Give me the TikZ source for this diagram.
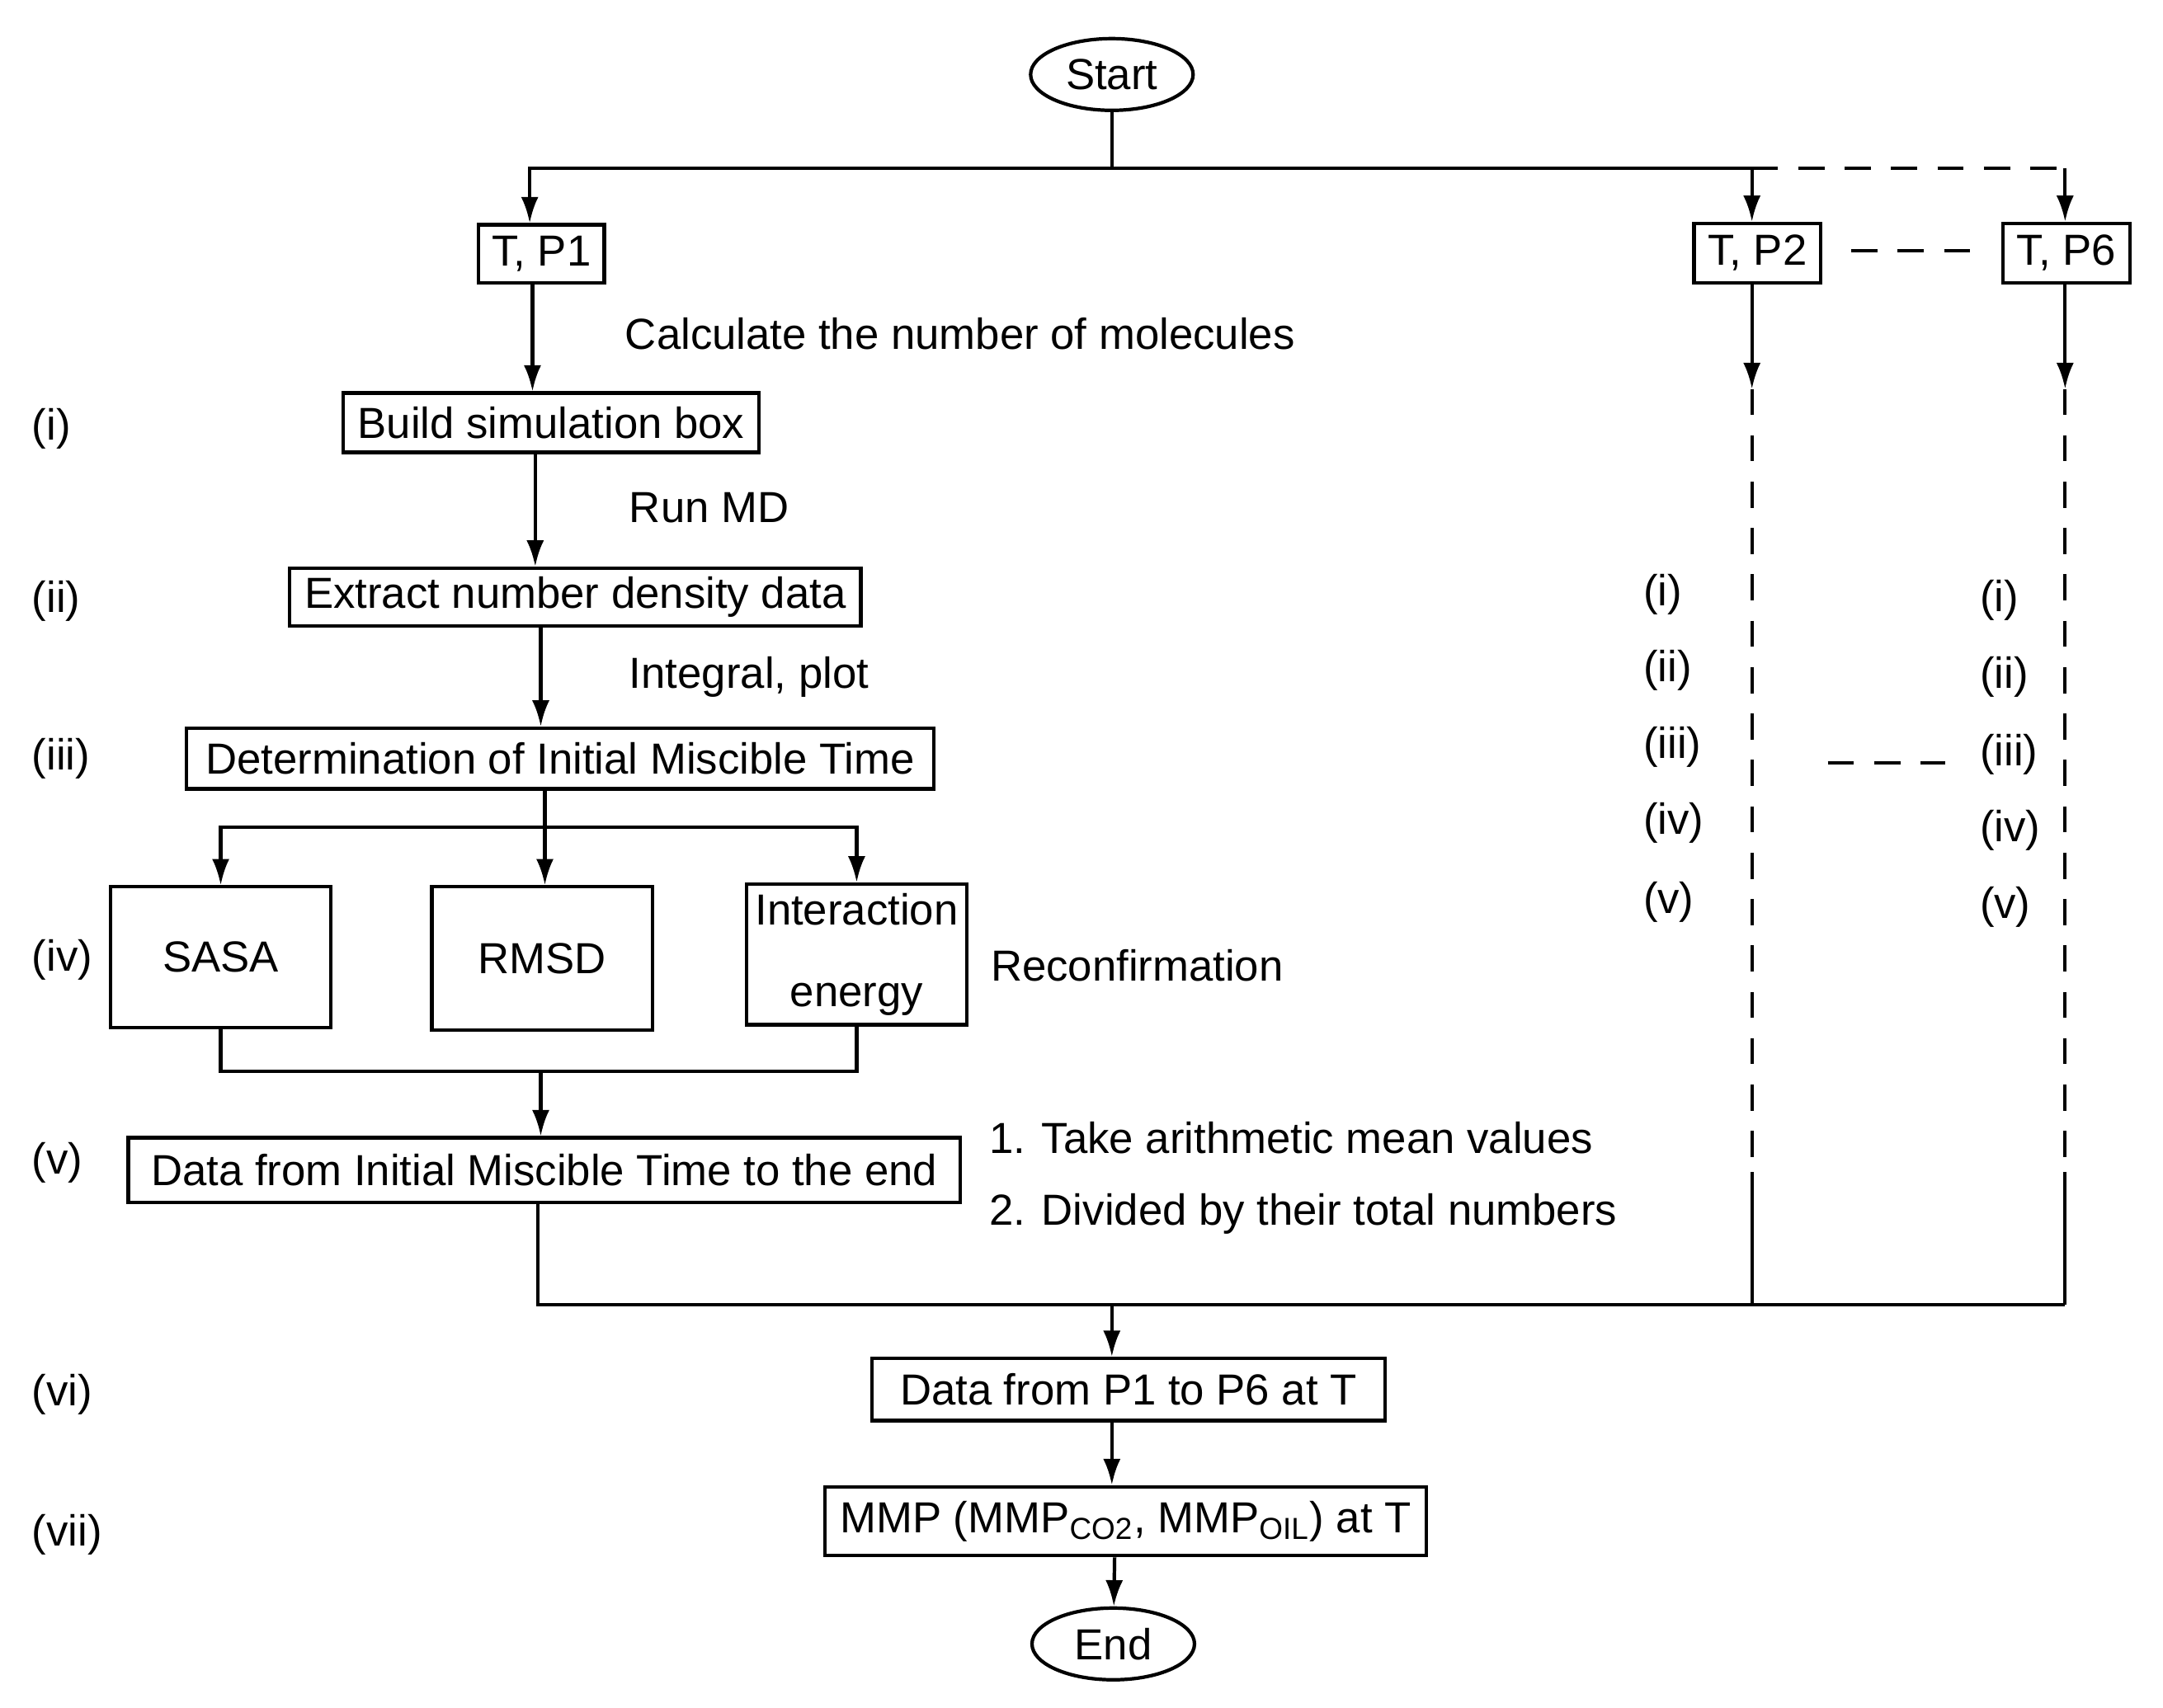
\documentclass[tikz,border=0pt]{standalone}
\usepackage{fontspec}
\setmainfont{Liberation Sans}
\usetikzlibrary{arrows.meta,shapes.geometric}
\begin{document}
\begin{tikzpicture}[x=0.01672cm,y=-0.01672cm,line width=1.2pt,
  box/.style={draw,rectangle,inner sep=0pt,font=\fontsize{15}{18}\selectfont},
  txt/.style={font=\fontsize{15}{18}\selectfont,inner sep=0pt},
  arr/.style={-{Latex[length=9pt,width=6pt]}},
  dsh/.style={dash pattern=on 9pt off 7pt}]
\useasboundingbox (0,0) rectangle (1568,1238);
% helper macro for rectangle boxes given corners
\newcommand{\mybox}[6]{\node[box,minimum width={(#4-#2)*0.01672cm},minimum height={(#5-#3)*0.01672cm}] (#1) at ({(#2+#4)/2},{(#3+#5)/2}) {#6};}
\node[draw,ellipse,minimum width=1.97cm,minimum height=0.87cm,inner sep=0pt,font=\fontsize{15}{18}\selectfont] (start) at (806,54) {Start};
\node[draw,ellipse,minimum width=1.97cm,minimum height=0.87cm,inner sep=0pt,font=\fontsize{15}{18}\selectfont] (end) at (807,1192) {End};
\mybox{tp1}{347}{163}{438}{205}{T, P1}
\mybox{tp2}{1228}{162}{1320}{205}{T, P2}
\mybox{tp6}{1452}{162}{1544}{205}{T, P6}
\mybox{build}{249}{285}{550}{328}{Build simulation box}
\mybox{extract}{210}{412}{624}{454}{Extract number density data}
\mybox{det}{135}{528}{677}{572}{Determination of Initial Miscible Time}
\mybox{sasa}{80}{643}{240}{745}{SASA}
\mybox{rmsd}{313}{643}{473}{747}{RMSD}
\node[box,minimum width={160*0.01672cm},minimum height={102*0.01672cm},align=center,font=\fontsize{15}{28}\selectfont] (inter) at (621,692) {Interaction\\energy};
\mybox{data}{93}{825}{696}{872}{Data from Initial Miscible Time to the end}
\mybox{p16}{632}{985}{1004}{1030}{Data from P1 to P6 at T}
\mybox{mmp}{598}{1078}{1034}{1128}{MMP (MMP\textsubscript{CO2}, MMP\textsubscript{OIL}) at T}
% labels
\foreach \t/\y in {(i)/311,(ii)/436,(iii)/550,(iv)/696,(v)/843,(vi)/1011,(vii)/1113}
  \node[txt,anchor=west] at (22,\y) {\t};
\foreach \t/\a/\b in {(i)/431/435,(ii)/486/491,(iii)/542/547,(iv)/597/602,(v)/654/658}{
  \node[txt,anchor=west] at (1190,\a) {\t};
  \node[txt,anchor=west] at (1434,\b) {\t};}
\node[txt,anchor=west] at (452,242) {Calculate the number of molecules};
\node[txt,anchor=west] at (455,368) {Run MD};
\node[txt,anchor=west] at (455,491) {Integral, plot};
\node[txt,anchor=west] at (717,700) {Reconfirmation};
\node[txt,anchor=west] at (716,825) {1. Take arithmetic mean values};
\node[txt,anchor=west] at (716,880) {2. Divided by their total numbers};
% connectors
\coordinate (top) at (806,122);
\draw (start) -- (top);
\draw[arr] (top) -| (tp1.north -| 384,0);
\draw[arr] (top) -| (tp2.north -| 1270,0);
\draw[dsh] (1270,122) -- (1497,122);
\draw[arr] (1497,122) -- (tp6.north -| 1497,0);
\coordinate (gap) at (1430,182);
\draw[dsh] (1342,182) -- (gap);
\draw[arr] (tp1.south -| 386,0) -- (build.north -| 386,0);
\draw[arr] (build.south -| 388,0) -- (extract.north -| 388,0);
\draw[arr] (extract.south -| 392,0) -- (det.north -| 392,0);
\coordinate (split) at (395,600);
\draw (det.south -| 395,0) -- (split);
\draw[arr] (split) -| (sasa.north);
\draw[arr] (split) -- (rmsd.north -| 395,0);
\draw[arr] (split) -| (inter.north);
\coordinate (join) at (392,777);
\draw (sasa.south) |- (join) -| (inter.south);
\draw[arr] (join) -- (data.north -| 392,0);
\coordinate (merge) at (806,946);
\draw (data.south -| 390,0) |- (merge);
\draw (merge) -- (1497,946);
\draw[arr] (tp2.south -| 1270,0) -- (1270,282);
\draw[dsh] (1270,282) -- (1270,850);
\draw (1270,850) -- (1270,946);
\draw[arr] (tp6.south -| 1497,0) -- (1497,282);
\draw[dsh] (1497,282) -- (1497,850);
\draw (1497,850) -- (1497,946);
\draw[dsh] (1325,553) -- (1410,553);
\draw[arr] (merge) -- (p16.north -| 806,0);
\draw[arr] (p16.south -| 806,0) -- (mmp.north -| 806,0);
\draw[arr] (mmp.south -| 808,0) -- (end);
\end{tikzpicture}
\end{document}
